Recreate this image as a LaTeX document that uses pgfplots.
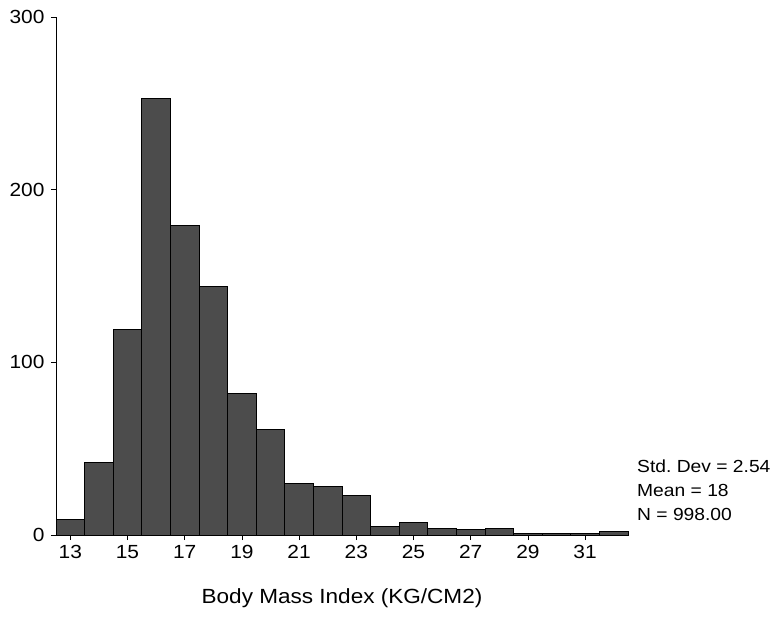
\documentclass[border=0pt]{standalone}
\usepackage{fontspec}
\setmainfont{Liberation Sans}[FakeStretch=1.1]
\usepackage{pgfplots}
\pgfplotsset{compat=1.18}
\frenchspacing
\begin{document}
\fontsize{19pt}{23pt}\selectfont
\begin{tikzpicture}[x=1pt,y=1pt]
\useasboundingbox (0,0) rectangle (782,616);
\begin{axis}[
  at={(56pt,81pt)}, anchor=south west,
  width=572pt, height=518pt, scale only axis,
  xmin=12.5, xmax=32.5, ymin=0, ymax=300,
  axis x line=bottom, axis y line=left,
  axis line style={-, line width=1pt, black},
  xtick={13,15,...,31}, ytick={0,100,200,300},
  tick align=outside, major tick length=5pt,
  tick style={black, line width=0.8pt},
  /pgf/number format/assume math mode=true,
  tick label style={font=\fontsize{19pt}{23pt}\selectfont},
  yticklabel style={xshift=0pt},
  xticklabel style={yshift=1pt},
  xlabel={Body Mass Index (KG/CM2)},
  xlabel style={font=\fontsize{20.5pt}{24pt}\selectfont, yshift=-17pt},
  clip=false,
]
\addplot[ybar interval, fill=black!70, draw=black, line width=1pt] coordinates {
(12.5,9) (13.5,42) (14.5,119) (15.5,253) (16.5,179) (17.5,144) (18.5,82)
(19.5,61) (20.5,30) (21.5,28) (22.5,23) (23.5,5) (24.5,7) (25.5,4)
(26.5,3) (27.5,4) (28.5,1) (29.5,1) (30.5,1) (31.5,2) (32.5,2)};
\end{axis}
\node[anchor=base west, inner sep=0pt, font=\fontsize{17.5pt}{21pt}\selectfont] at (637,143) {Std. Dev = 2.54};
\node[anchor=base west, inner sep=0pt, font=\fontsize{17.5pt}{21pt}\selectfont] at (637,119) {Mean = 18};
\node[anchor=base west, inner sep=0pt, font=\fontsize{17.5pt}{21pt}\selectfont] at (637,95) {N = 998.00};
\end{tikzpicture}
\end{document}
